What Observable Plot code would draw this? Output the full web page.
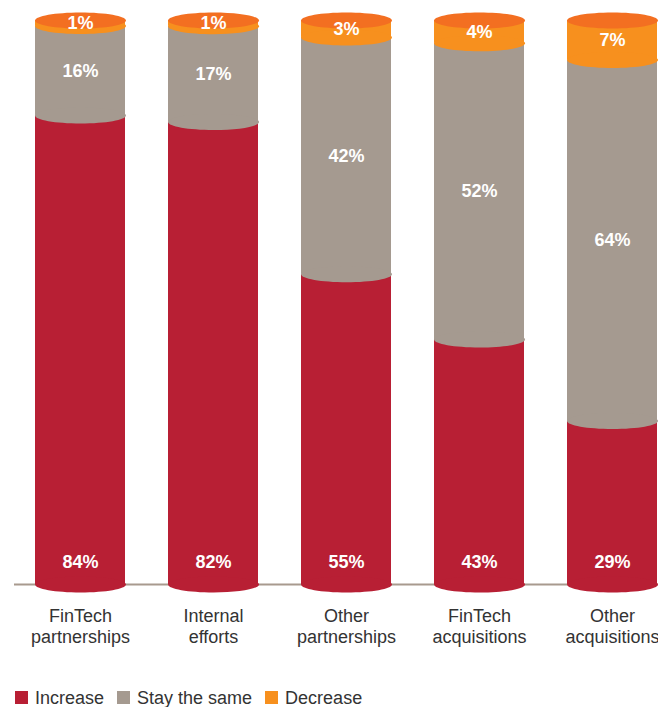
<!DOCTYPE html>
<html>
<head>
<meta charset="utf-8">
<script src="https://cdn.jsdelivr.net/npm/d3@7"></script>
<script src="https://cdn.jsdelivr.net/npm/@observablehq/plot@0.6"></script>
<style>
  html, body { margin: 0; padding: 0; background: #fff; }
  body { width: 658px; overflow: hidden; font-family: "Liberation Sans", Arial, sans-serif; }
  #legend { height: 21px; line-height: 21px; font-size: 18px; color: #333; padding-left: 15px; white-space: nowrap; }
  #legend .item { display: inline-block; margin-right: 13px; }
  #legend .sw { display: inline-block; width: 13px; height: 13px; margin-right: 7px; vertical-align: baseline; }
</style>
</head>
<body>
<div id="chart"></div>
<div id="legend"></div>
<script>
// ---- data ----
const categories = ["FinTech partnerships", "Internal efforts", "Other partnerships", "FinTech acquisitions", "Other acquisitions"];
const tickLabels = ["FinTech\npartnerships", "Internal\nefforts", "Other\npartnerships", "FinTech\nacquisitions", "Other\nacquisitions"];
const increase = [84, 82, 55, 43, 29];
const stayTheSame = [16, 17, 42, 52, 64];
const decrease = [1, 1, 3, 4, 7];
const seriesNames = ["Increase", "Stay the same", "Decrease"];
const seriesColors = ["#b81f34", "#a59a90", "#f7901e"];
const topColor = "#f36f21";

// ---- build stacked (normalized) rows ----
const seriesValues = [increase, stayTheSame, decrease];
const rows = [];
categories.forEach((c, i) => {
  const total = seriesValues.reduce((s, arr) => s + arr[i], 0);
  let cum = 0;
  seriesValues.forEach((arr, k) => {
    const v = arr[i];
    const y1 = cum / total;
    cum += v;
    const y2 = cum / total;
    rows.push({category: c, series: seriesNames[k], value: v, y1, y2, mid: (y1 + y2) / 2, label: v + "%"});
  });
});
// order: by series so ellipses of upper segments are drawn over lower ones
rows.sort((a, b) => seriesNames.indexOf(a.series) - seriesNames.indexOf(b.series));
const tops = categories.map(c => ({category: c, y: 1}));
const ticks = categories.map((c, i) => ({category: c, text: tickLabels[i]}));

// ellipse symbol (rx from dot radius, fixed ry)
const RY = 8;
const ellipse = {
  draw(ctx, size) {
    const rx = Math.sqrt(size / Math.PI), ry = RY, k = 0.5523;
    ctx.moveTo(rx, 0);
    ctx.bezierCurveTo(rx, ry * k, rx * k, ry, 0, ry);
    ctx.bezierCurveTo(-rx * k, ry, -rx, ry * k, -rx, 0);
    ctx.bezierCurveTo(-rx, -ry * k, -rx * k, -ry, 0, -ry);
    ctx.bezierCurveTo(rx * k, -ry, rx, -ry * k, rx, 0);
    ctx.closePath();
  }
};
const HALF = 45.5;

const chart = Plot.plot({
  width: 658,
  height: 688,
  marginLeft: 14,
  marginRight: 0,
  marginTop: 0,
  marginBottom: 0,
  style: {fontFamily: "'Liberation Sans', Arial, sans-serif", background: "#fff"},
  x: {domain: categories, range: [-10, 702], padding: 0.32, axis: null},
  y: {domain: [0, 1], range: [584, 20], axis: null},
  color: {domain: seriesNames, range: seriesColors},
  marks: [
    Plot.ruleY([0], {stroke: "#a89a8e", strokeWidth: 2}),
    Plot.barY(rows, {x: "category", y1: "y1", y2: "y2", fill: "series"}),
    Plot.dot(rows, {x: "category", y: "y1", fill: "series", r: HALF, symbol: ellipse}),
    Plot.dot(tops, {x: "category", y: "y", fill: topColor, r: HALF, symbol: ellipse}),
    Plot.text(rows.filter(d => d.series !== "Increase"), {x: "category", y: "mid", text: "label", fill: "white", fontSize: 18, fontWeight: "bold"}),
    Plot.text(rows.filter(d => d.series === "Increase"), {x: "category", y: 0, dy: -22, text: "label", fill: "white", fontSize: 18, fontWeight: "bold"}),
    Plot.text(ticks, {x: "category", y: 0, dy: 22, text: "text", lineAnchor: "top", lineHeight: 1.2, fill: "#333", fontSize: 18})
  ]
});
document.getElementById("chart").appendChild(chart);

// legend
const legend = document.getElementById("legend");
seriesNames.forEach((name, i) => {
  const item = document.createElement("span");
  item.className = "item";
  const sw = document.createElement("span");
  sw.className = "sw";
  sw.style.background = seriesColors[i];
  item.appendChild(sw);
  item.appendChild(document.createTextNode(name));
  legend.appendChild(item);
});
</script>
</body>
</html>
